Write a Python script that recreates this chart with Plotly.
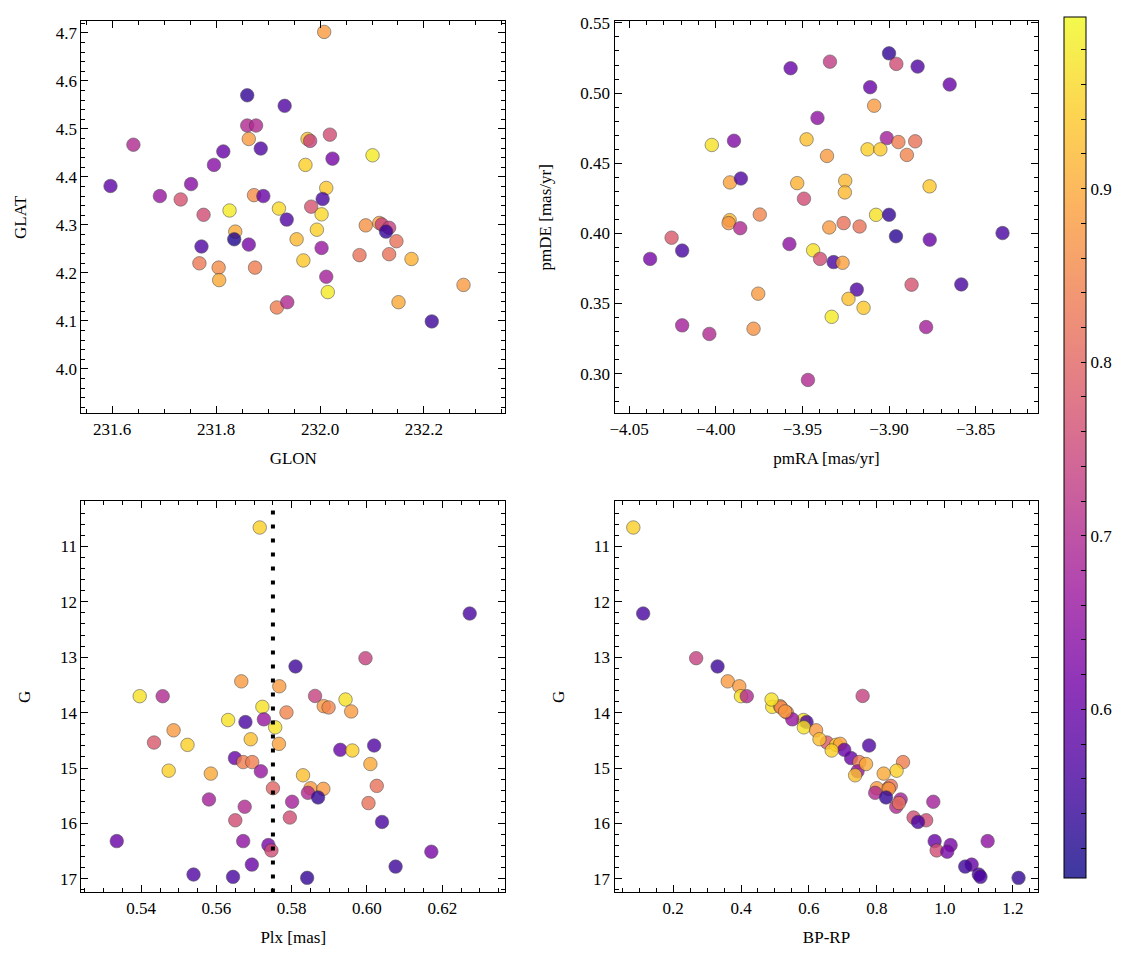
import plotly.graph_objects as go
import plotly.colors as pc

# ---------------- data ----------------
# Panel 1: sky positions
glon = [231.860, 231.932, 231.641, 231.860, 231.877, 231.863, 231.814, 231.886, 231.796, 231.597,
        231.752, 231.692, 231.732, 231.873, 231.891, 231.826, 231.921, 231.776, 231.936, 231.837,
        231.835, 231.863, 231.772, 231.768, 231.805, 231.875, 231.806, 231.917, 231.937, 231.955,
        232.008, 231.976, 231.981, 232.019, 232.024, 232.101, 231.972, 232.012, 232.005, 231.983,
        232.003, 231.994, 232.003, 231.968, 232.012, 232.015, 232.088, 232.114, 232.119, 232.133,
        232.127, 232.147, 232.076, 232.133, 232.176, 232.276, 232.151, 232.215]
glat = [4.570, 4.548, 4.467, 4.507, 4.507, 4.479, 4.453, 4.459, 4.425, 4.381,
        4.385, 4.360, 4.353, 4.362, 4.360, 4.330, 4.334, 4.321, 4.311, 4.286,
        4.270, 4.259, 4.255, 4.220, 4.211, 4.211, 4.185, 4.128, 4.139, 4.270,
        4.702, 4.479, 4.475, 4.488, 4.438, 4.445, 4.425, 4.377, 4.354, 4.338,
        4.322, 4.290, 4.252, 4.226, 4.192, 4.160, 4.299, 4.304, 4.301, 4.294,
        4.286, 4.266, 4.237, 4.239, 4.229, 4.175, 4.139, 4.099]
prob_sky = [0.54, 0.57, 0.70, 0.70, 0.70, 0.88, 0.60, 0.57, 0.64, 0.59,
            0.64, 0.66, 0.77, 0.86, 0.60, 0.98, 0.96, 0.76, 0.57, 0.90,
            0.52, 0.62, 0.57, 0.83, 0.86, 0.84, 0.90, 0.84, 0.70, 0.92,
            0.88, 0.93, 0.74, 0.76, 0.62, 0.98, 0.95, 0.94, 0.56, 0.77,
            0.96, 0.95, 0.66, 0.94, 0.68, 0.98, 0.87, 0.89, 0.74, 0.74,
            0.54, 0.82, 0.82, 0.82, 0.91, 0.88, 0.90, 0.55]

# Panel 2: proper motions
pmra = [-3.9568, -3.9413, -4.0023, -3.9895, -3.9476, -3.9918, -3.9855, -3.9530, -3.9491, -3.9746,
        -3.9920, -3.9926, -3.9859, -4.0255, -4.0194, -4.0379, -3.9575, -3.9438, -3.9398, -3.9755,
        -4.0194, -4.0037, -3.9782, -3.9468, -3.9000, -3.8958, -3.8835, -3.9341, -3.8650, -3.9109,
        -3.9086, -3.9013, -3.8946, -3.8849, -3.9124, -3.9050, -3.8897, -3.9358, -3.9253, -3.9255,
        -3.8766, -3.9075, -3.9000, -3.9345, -3.9262, -3.9170, -3.8960, -3.8765, -3.8345, -3.9320,
        -3.9268, -3.9186, -3.9234, -3.9147, -3.9331, -3.8870, -3.8583, -3.8786]
pmde = [0.5177, 0.4823, 0.4630, 0.4660, 0.4670, 0.4363, 0.4391, 0.4358, 0.4247, 0.4134,
        0.4094, 0.4073, 0.4037, 0.3969, 0.3877, 0.3818, 0.3924, 0.3879, 0.3818, 0.3570,
        0.3344, 0.3283, 0.3320, 0.2955, 0.5283, 0.5208, 0.5189, 0.5224, 0.5061, 0.5042,
        0.4910, 0.4679, 0.4651, 0.4656, 0.4599, 0.4599, 0.4559, 0.4552, 0.4375, 0.4292,
        0.4335, 0.4132, 0.4132, 0.4042, 0.4073, 0.4049, 0.3979, 0.3955, 0.4002, 0.3795,
        0.3790, 0.3599, 0.3533, 0.3469, 0.3405, 0.3634, 0.3636, 0.3332]
prob_pm = [0.60, 0.65, 0.97, 0.63, 0.93, 0.89, 0.57, 0.91, 0.76, 0.85,
           0.92, 0.87, 0.70, 0.78, 0.56, 0.62, 0.65, 0.97, 0.76, 0.88,
           0.68, 0.70, 0.87, 0.70, 0.54, 0.76, 0.57, 0.73, 0.60, 0.60,
           0.88, 0.68, 0.84, 0.82, 0.95, 0.94, 0.85, 0.88, 0.92, 0.92,
           0.94, 0.97, 0.54, 0.88, 0.82, 0.82, 0.53, 0.60, 0.56, 0.56,
           0.89, 0.57, 0.93, 0.94, 0.98, 0.77, 0.56, 0.68]

# Panels 3 & 4: parallax, photometry
plx = [0.5715, 0.5810, 0.5666, 0.5767, 0.5396, 0.5457, 0.5722, 0.5786, 0.5631, 0.5677,
       0.5726, 0.5756, 0.5486, 0.5434, 0.5523, 0.5691, 0.5766, 0.5649, 0.5671, 0.5695,
       0.5718, 0.5473, 0.5585, 0.5750, 0.5580, 0.5675, 0.5650, 0.5801, 0.5795, 0.5335,
       0.5671, 0.5738, 0.5746, 0.5694, 0.5539, 0.5644, 0.5862, 0.5885, 0.5898, 0.5943,
       0.5958, 0.5996, 0.6273, 0.5929, 0.5961, 0.6019, 0.6009, 0.6026, 0.6004, 0.6040,
       0.5830, 0.5850, 0.5884, 0.5843, 0.5870, 0.6171, 0.6076, 0.5841]
gmag = [10.660, 13.167, 13.436, 13.525, 13.704, 13.704, 13.896, 13.997, 14.134, 14.170,
        14.122, 14.266, 14.319, 14.540, 14.582, 14.481, 14.564, 14.821, 14.893, 14.893,
        15.060, 15.048, 15.101, 15.364, 15.567, 15.699, 15.943, 15.609, 15.893, 16.319,
        16.319, 16.391, 16.487, 16.743, 16.922, 16.964, 13.699, 13.884, 13.907, 13.764,
        13.979, 13.018, 12.212, 14.672, 14.684, 14.594, 14.928, 15.322, 15.633, 15.973,
        15.131, 15.364, 15.376, 15.448, 15.531, 16.510, 16.779, 16.982]
bp_rp = [0.083, 0.331, 0.361, 0.395, 0.400, 0.417, 0.492, 0.535, 0.584, 0.593,
         0.551, 0.585, 0.621, 0.653, 0.680, 0.631, 0.692, 0.724, 0.748, 0.877,
         0.743, 0.858, 0.820, 0.833, 0.870, 0.857, 0.945, 0.966, 0.908, 0.970,
         1.126, 1.017, 0.976, 1.079, 1.100, 1.105, 0.758, 0.515, 0.518, 0.490,
         0.530, 0.268, 0.112, 0.704, 0.667, 0.777, 0.768, 0.841, 0.865, 0.921,
         0.736, 0.800, 0.835, 0.795, 0.827, 1.007, 1.060, 1.217]
prob = [0.95, 0.55, 0.88, 0.88, 0.97, 0.70, 0.97, 0.85, 0.97, 0.56,
        0.66, 0.97, 0.88, 0.78, 0.95, 0.93, 0.89, 0.60, 0.84, 0.84,
        0.66, 0.95, 0.90, 0.80, 0.68, 0.70, 0.76, 0.68, 0.76, 0.60,
        0.65, 0.62, 0.76, 0.60, 0.57, 0.56, 0.74, 0.88, 0.85, 0.97,
        0.88, 0.74, 0.56, 0.60, 0.95, 0.57, 0.90, 0.82, 0.82, 0.56,
        0.93, 0.88, 0.88, 0.70, 0.54, 0.62, 0.55, 0.54]

plx_ref = 0.575          # dotted reference parallax
cbar_labels = [0.6, 0.7, 0.8, 0.9]
CMIN, CMAX = 0.503, 0.999

# ---------------- style ----------------
FONT = "Liberation Serif"
FS = 17
ALPHA = 0.8
SW, SH = 1133, 959      # screen size
OFF = 8                 # page body margin
W, H = SW - 2 * OFF, SH - 2 * OFF   # keep the page from overflowing the window

plasma = pc.sequential.Plasma


def blend(hexc):
    r, g, b = pc.hex_to_rgb(hexc)
    f = lambda v: round(ALPHA * v + (1 - ALPHA) * 255)
    return f"rgb({f(r)},{f(g)},{f(b)})"


cb_scale = [[i / (len(plasma) - 1), blend(c)] for i, c in enumerate(plasma)]


def px_x(sx):
    return (sx - OFF) / W


def px_y(sy):
    return 1 - (sy - OFF) / H


fig = go.Figure()


def add(x, y, c, xa, ya):
    fig.add_trace(go.Scatter(
        x=x, y=y, mode="markers", xaxis=xa, yaxis=ya, showlegend=False, hoverinfo="skip",
        marker=dict(size=13.5, color=c, colorscale="Plasma", cmin=CMIN, cmax=CMAX,
                    opacity=ALPHA, line=dict(width=0.6, color="#333333"))))


add(glon, glat, prob_sky, "x", "y")
add(pmra, pmde, prob_pm, "x2", "y2")
add(plx, gmag, prob, "x3", "y3")
add(bp_rp, gmag, prob, "x4", "y4")

# invisible trace carrying the colorbar (alpha-blended plasma)
minor_vals = [round(0.52 + 0.02 * i, 2) for i in range(24)]
fig.add_trace(go.Scatter(
    x=glon, y=glat, mode="markers", xaxis="x", yaxis="y", showlegend=False, hoverinfo="skip",
    marker=dict(size=1, opacity=0, color=prob_sky, colorscale=cb_scale, cmin=CMIN, cmax=CMAX,
                showscale=True,
                colorbar=dict(x=px_x(1064), xanchor="left", xpad=0, ypad=0,
                              y=px_y(443.5), yanchor="middle", len=867 / H, lenmode="fraction",
                              thickness=22, thicknessmode="pixels",
                              outlinewidth=1, outlinecolor="black",
                              ticks="inside", ticklen=5, tickwidth=1, tickcolor="black",
                              tickvals=minor_vals,
                              ticktext=[(f"{v:.1f}" if any(abs(v - m) < 1e-6 for m in cbar_labels) else "")
                                        for v in minor_vals],
                              tickfont=dict(family=FONT, size=FS, color="black")))))

common = dict(showline=True, linecolor="black", linewidth=1.2, mirror="ticks",
              ticks="inside", ticklen=7, tickwidth=1.1, tickcolor="black",
              showgrid=False, zeroline=False, ticklabeloverflow="allow",
              tickfont=dict(family=FONT, size=FS, color="black"))


def minor(d):
    return dict(dtick=d, ticks="inside", ticklen=4, tickwidth=1, tickcolor="black", showgrid=False)


def title(t, s):
    return dict(text=t, font=dict(family=FONT, size=FS, color="black"), standoff=s)


xd1 = [px_x(76.7), px_x(502.3)]
xd2 = [px_x(612.3), px_x(1038)]
yd1 = [px_y(409.3), px_y(14.3)]
yd2 = [px_y(892), px_y(497.7)]

XS, YS = 14, 24

fig.update_layout(
    width=W, height=H, margin=dict(l=0, r=0, t=0, b=0),
    plot_bgcolor="white", paper_bgcolor="white",
    xaxis=dict(common, domain=xd1, anchor="y", range=[231.541, 232.356], tick0=231.6, dtick=0.2,
               tickformat=".1f", minor=minor(0.05), title=title("GLON", XS)),
    yaxis=dict(common, domain=yd1, anchor="x", range=[3.9075, 4.7242], tick0=4.0, dtick=0.1,
               tickformat=".1f", minor=minor(0.02), title=title("GLAT", YS)),
    xaxis2=dict(common, domain=xd2, anchor="y2", range=[-4.0584, -3.8138], tick0=-4.0, dtick=0.05,
                tickformat=".2f", minor=minor(0.01), title=title("pmRA [mas/yr]", XS)),
    yaxis2=dict(common, domain=yd1, anchor="x2", range=[0.2717, 0.5512], tick0=0.3, dtick=0.05,
                tickformat=".2f", minor=minor(0.01), title=title("pmDE [mas/yr]", YS)),
    xaxis3=dict(common, domain=xd1, anchor="y3", range=[0.5241, 0.6367], tick0=0.54, dtick=0.02,
                tickformat=".2f", minor=minor(0.005), title=title("Plx [mas]", XS)),
    yaxis3=dict(common, domain=yd2, anchor="x3", range=[17.245, 10.183], tick0=11, dtick=1,
                tickformat="d", minor=minor(0.2), title=title("G", YS)),
    xaxis4=dict(common, domain=xd2, anchor="y4", range=[0.0279, 1.2754], tick0=0.2, dtick=0.2,
                tickformat=".1f", minor=minor(0.05), title=title("BP-RP", XS)),
    yaxis4=dict(common, domain=yd2, anchor="x4", range=[17.245, 10.183], tick0=11, dtick=1,
                tickformat="d", minor=minor(0.2), title=title("G", YS)),
)

fig.add_shape(type="line", xref="x3", yref="y3 domain", x0=plx_ref, x1=plx_ref, y0=0, y1=1,
              line=dict(color="black", width=4, dash="4px,10px"), layer="above")

fig.write_html("out.html")
